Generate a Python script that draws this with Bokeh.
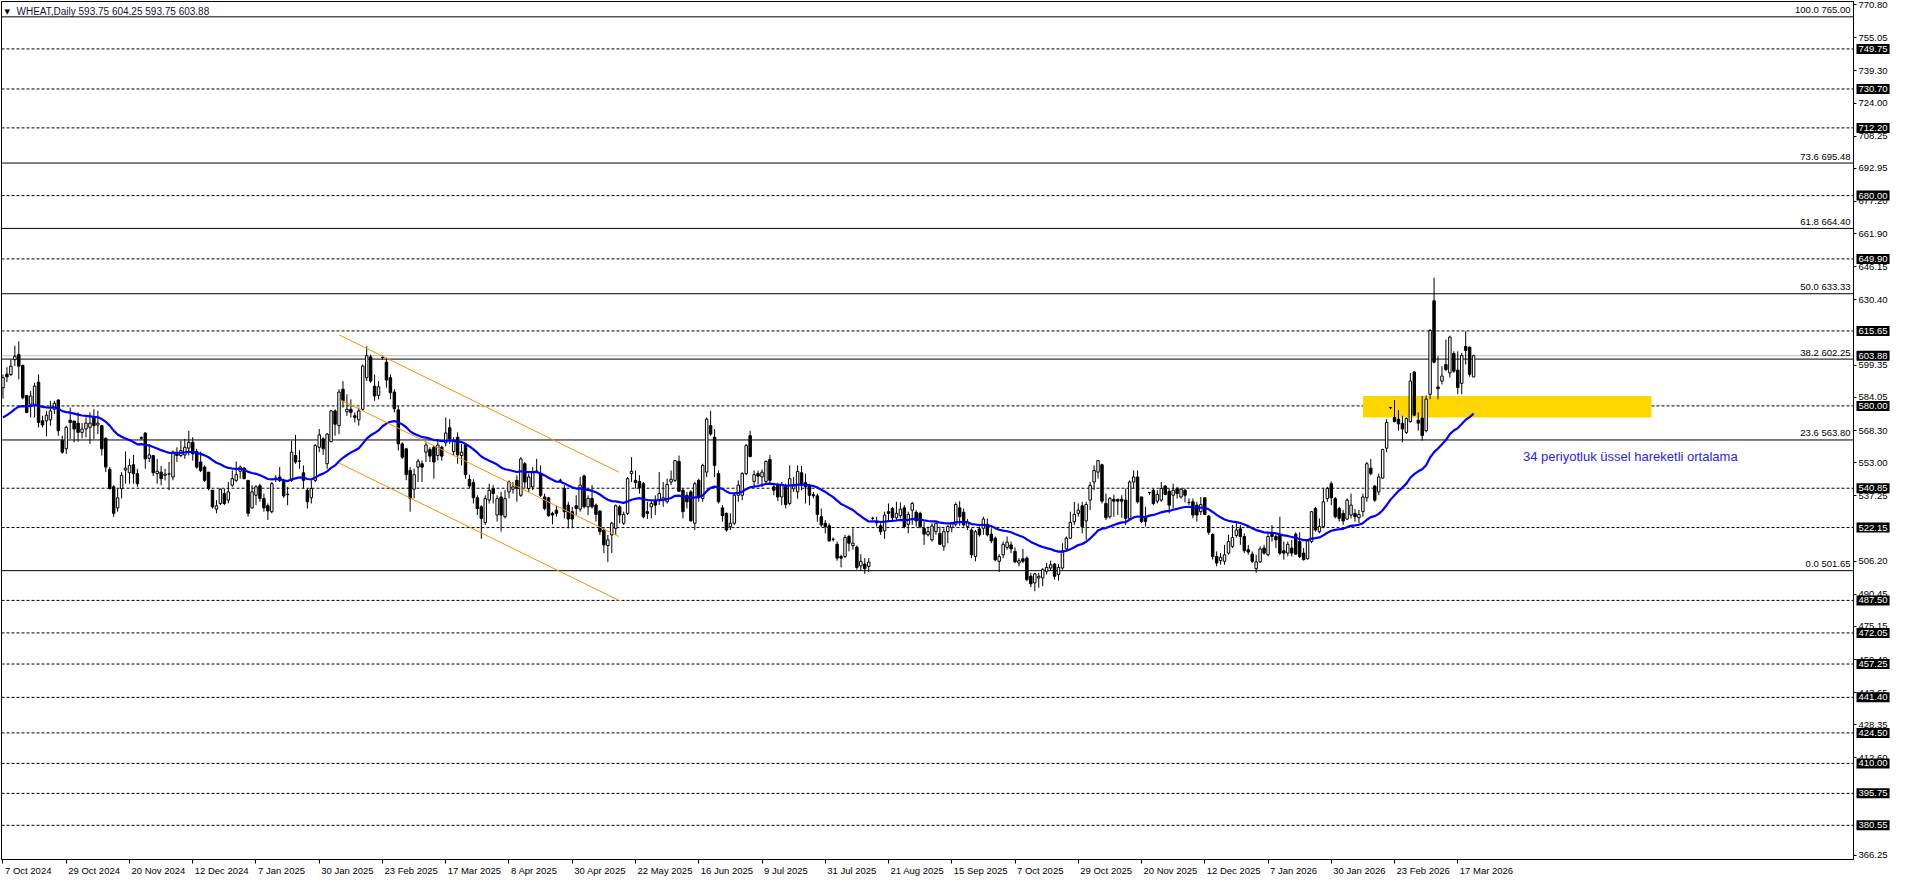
import numpy as np
from bokeh.plotting import figure
from bokeh.models import (ColumnDataSource, Range1d, FixedTicker, Label, Span,
                          CustomJSTickFormatter)
from bokeh.embed import file_html
from bokeh.resources import INLINE

# ---------------- data (WHEAT, Daily) ----------------
opens = [
588.6,595.1,594.9,602.0,604.4,599.2,585.0,580.8,580.0,591.3,572.9,572.9,573.4,578.4,582.8,563.5,559.6,573.2,572.8,571.8,
567.4,569.0,569.8,574.8,570.9,570.6,564.6,549.8,541.5,531.5,540.7,549.5,548.2,552.0,547.8,564.9,567.1,555.1,556.4,547.8,
548.5,547.0,547.6,546.2,557.2,556.4,556.7,559.9,562.7,558.3,553.3,550.9,548.5,539.9,530.9,533.6,538.3,535.2,542.3,544.6,
548.9,550.4,544.6,531.5,537.5,542.0,536.0,532.5,529.7,545.1,546.2,544.6,538.0,544.6,556.4,553.8,548.2,539.9,536.3,544.6,
560.3,564.3,552.5,563.0,577.6,570.6,587.9,577.2,578.4,575.3,573.4,578.4,593.4,603.3,589.4,585.0,603.1,600.8,593.4,586.6,
578.1,561.9,559.6,549.3,540.4,550.9,552.5,558.0,559.2,560.3,556.4,560.3,562.4,569.6,558.3,565.1,556.4,561.4,545.1,543.5,
536.3,532.0,524.6,535.2,540.7,528.1,536.7,527.3,539.1,540.4,544.6,537.5,552.5,540.7,541.5,549.0,547.8,536.7,536.3,528.9,
530.4,544.6,540.7,532.8,529.7,532.5,530.9,546.7,532.0,536.0,532.8,530.0,521.0,513.6,518.6,521.8,532.0,524.2,528.9,547.8,
544.6,544.1,543.0,529.7,532.0,535.2,535.2,535.6,534.4,543.8,544.6,553.6,539.9,537.5,539.1,524.2,544.6,536.0,548.5,570.6,
565.1,547.8,531.5,528.9,522.6,524.2,537.5,537.5,547.8,565.8,544.1,547.8,546.2,544.1,554.5,541.5,542.3,536.7,541.5,533.6,
540.6,539.1,548.2,543.5,542.2,537.8,537.2,527.3,524.2,523.0,516.6,514.2,508.4,508.4,517.9,513.6,512.8,503.9,504.8,503.7,
526.5,524.6,523.0,520.6,529.7,531.2,526.8,527.8,531.5,523.7,530.4,529.4,528.9,521.8,518.7,516.3,520.2,519.4,513.2,520.2,
522.1,523.7,531.5,529.4,522.6,521.0,508.4,521.5,521.8,523.7,519.0,517.1,506.1,509.2,512.7,513.9,510.8,505.3,507.3,507.6,
499.0,495.8,498.2,498.2,501.3,502.9,504.8,499.8,502.9,512.0,517.1,524.9,528.9,532.5,525.3,535.2,543.8,548.5,552.0,533.6,
527.3,535.6,535.6,535.6,535.2,526.5,543.8,546.2,536.7,527.3,538.8,539.9,534.7,535.2,541.9,539.4,537.5,540.7,536.7,539.9,
534.1,534.4,532.8,529.7,536.3,527.6,518.9,508.4,506.4,506.1,510.0,513.2,518.4,521.5,517.9,511.6,509.5,502.6,505.8,512.4,
509.2,519.0,517.9,518.7,511.1,510.0,512.4,519.0,515.5,510.0,507.3,515.5,531.2,520.2,522.6,535.9,543.0,535.9,531.2,528.9,
526.2,528.1,528.9,526.8,529.7,536.3,550.4,541.9,539.1,545.7,559.9,579.2,574.5,573.7,571.7,567.4,572.5,596.1,573.2,574.2,
568.2,585.5,630.0,589.0,591.8,599.7,595.7,604.9,597.0,590.7,608.3,607.9,593.75]
highs = [
594.9,598.4,602.0,608.6,610.7,599.7,585.2,587.1,591.0,594.9,575.3,577.6,582.4,582.4,583.1,565.8,570.6,579.2,572.8,576.9,
571.8,574.5,576.9,578.4,577.6,571.0,565.0,550.9,542.3,540.7,548.5,558.3,554.8,556.7,550.1,565.5,567.4,561.9,556.7,554.8,
551.4,550.1,553.3,558.8,560.3,563.5,564.3,568.2,565.1,559.6,558.3,551.7,548.5,539.9,535.2,540.7,540.7,543.8,549.3,553.6,
551.7,550.9,544.6,542.3,542.3,543.0,538.3,533.6,543.8,547.0,550.9,545.4,541.5,563.5,566.2,558.8,551.7,540.7,544.6,561.9,
569.0,565.1,567.1,578.1,578.4,587.9,591.8,585.5,583.1,576.9,579.2,599.7,608.3,604.4,594.9,591.8,603.9,602.8,594.9,587.9,
580.0,562.7,559.6,550.9,550.1,554.8,554.0,562.7,560.3,561.1,564.3,561.1,574.5,573.7,565.1,567.4,561.9,561.9,547.3,545.1,
537.5,532.8,537.5,543.0,542.3,537.5,539.1,539.9,544.6,543.8,547.0,555.6,553.3,547.8,550.9,554.8,551.7,538.3,536.7,529.7,
532.5,545.4,542.3,534.4,532.0,537.5,546.2,547.3,537.5,542.3,533.6,530.4,521.8,518.6,524.9,533.1,532.8,529.7,546.2,555.6,
549.3,547.0,543.8,534.4,535.2,537.5,548.5,543.8,545.4,549.3,554.0,556.4,540.7,539.1,539.9,543.8,545.4,552.5,574.5,577.6,
569.0,549.3,532.8,529.3,528.9,538.3,544.6,548.5,561.9,568.2,549.3,549.3,549.8,554.0,556.7,543.0,543.5,543.8,543.0,551.7,
546.2,551.7,551.4,547.8,543.0,539.1,538.3,531.2,525.7,524.2,517.4,515.5,509.2,518.7,518.7,521.8,513.6,509.5,507.6,507.6,
527.3,527.3,524.2,529.7,533.6,532.0,534.4,534.1,532.8,529.7,534.4,530.4,529.7,524.9,522.6,524.2,524.2,522.6,521.8,523.4,
524.9,534.1,534.7,531.2,526.2,521.8,521.0,522.6,527.3,526.5,521.8,517.9,509.5,515.5,517.9,515.5,512.7,507.6,512.0,508.4,
500.6,500.6,500.6,502.9,505.3,506.4,505.3,504.8,514.7,517.9,529.7,534.4,533.6,534.4,534.4,543.8,551.7,554.0,552.5,538.3,
536.7,537.8,535.6,537.5,540.7,544.6,549.3,549.3,536.7,532.0,538.8,540.7,539.9,543.8,542.3,540.7,543.0,541.5,541.0,540.7,
536.0,536.0,534.4,536.7,536.3,528.1,519.4,510.8,510.0,513.9,518.7,523.4,524.2,523.4,519.4,513.9,510.8,509.2,513.1,513.9,
520.2,523.4,519.4,527.3,515.5,515.5,516.3,519.9,519.9,512.4,516.3,530.0,532.0,526.5,540.7,541.5,544.1,536.7,532.0,530.5,
536.0,538.3,530.9,530.5,538.3,553.3,554.8,542.3,547.8,559.6,573.7,579.2,582.8,578.1,575.3,574.5,595.7,596.5,576.9,584.7,
585.0,616.5,641.0,603.6,598.9,611.5,613.4,606.0,606.0,605.2,615.4,608.3,604.25]
lows = [
583.5,591.3,594.2,598.9,592.6,583.1,576.5,574.5,574.5,569.8,569.8,565.5,570.6,576.1,565.8,557.2,557.2,564.3,562.7,563.0,
564.6,565.1,561.9,564.3,566.6,556.4,548.5,540.2,527.3,529.7,536.0,543.0,543.0,543.0,541.5,564.0,550.1,553.3,546.6,543.0,
542.3,544.6,539.9,544.6,553.3,555.6,554.8,556.4,554.0,550.1,548.5,543.8,539.9,531.2,528.9,532.8,532.8,533.6,541.5,543.8,
545.4,545.1,527.3,531.2,532.8,534.4,529.7,525.7,528.9,543.8,543.8,536.3,532.8,543.8,552.5,550.1,540.7,531.2,533.6,543.8,
558.0,556.7,550.1,562.7,565.8,566.6,579.2,575.3,574.5,572.1,570.6,577.6,591.8,591.0,582.4,583.1,602.0,588.7,583.1,576.9,
558.8,554.8,544.6,529.7,536.0,543.8,543.8,553.3,553.3,545.4,554.0,554.0,560.8,561.9,556.4,552.5,551.7,545.4,540.7,533.6,
528.1,516.8,523.4,533.6,533.6,525.0,520.2,526.5,536.0,538.3,534.4,536.7,540.7,539.1,539.9,548.5,536.7,530.4,527.3,523.7,
527.3,544.1,526.5,521.8,521.8,528.1,529.7,531.2,528.1,531.2,525.0,518.6,510.0,505.8,510.0,518.6,524.2,523.4,528.1,543.8,
540.7,538.3,526.5,526.2,526.5,528.1,532.8,532.0,533.6,542.3,543.8,539.1,526.5,531.2,525.0,521.0,534.4,534.4,546.2,565.8,
546.2,533.6,525.0,520.2,521.0,523.4,534.4,535.2,547.0,555.6,541.5,542.6,541.5,543.0,543.0,537.5,534.7,532.8,531.2,532.8,
539.1,535.9,539.9,533.6,532.8,536.0,524.9,522.6,519.4,515.5,515.5,506.4,503.2,507.6,510.8,511.6,502.1,501.7,500.1,501.0,
525.7,522.6,518.7,516.8,524.9,524.9,525.7,526.5,521.8,519.4,523.4,522.6,521.8,513.9,517.9,515.5,518.7,513.9,511.1,514.7,
519.9,522.6,523.0,522.6,521.0,507.6,506.1,517.9,518.7,517.9,514.7,506.1,501.0,507.6,511.6,510.0,505.3,503.7,505.3,496.6,
493.8,491.9,493.5,494.3,499.8,501.7,497.4,496.9,502.1,510.8,516.8,523.4,527.3,519.4,516.3,530.5,539.9,545.4,533.6,525.7,
526.5,527.3,528.1,526.8,523.4,525.7,540.7,533.6,524.2,522.6,537.6,532.8,533.6,534.4,537.5,528.9,531.2,535.9,535.9,534.1,
532.8,526.5,525.0,528.1,528.1,518.7,506.9,503.7,504.5,504.5,509.2,512.4,517.4,513.9,510.0,509.2,505.3,500.6,505.3,509.2,
508.4,515.5,512.4,509.2,506.9,508.4,508.4,509.2,507.6,506.4,506.9,514.7,520.2,519.4,521.8,534.4,532.8,526.5,525.0,523.4,
525.7,526.5,525.0,524.2,527.3,534.4,547.0,534.4,537.5,545.4,558.0,578.4,572.1,568.2,562.7,566.6,572.1,575.3,568.2,563.5,
567.4,583.2,600.2,583.2,590.2,596.5,593.4,595.7,585.5,585.5,599.7,593.9,593.75]
closes = [
593.4,593.8,598.9,603.6,598.9,583.9,576.9,584.7,589.4,572.1,570.9,575.6,577.6,581.3,568.2,558.0,569.8,572.1,569.0,567.4,
569.0,571.8,571.8,570.6,571.8,559.6,550.9,540.7,528.9,536.3,547.0,550.4,551.7,547.8,543.0,564.6,554.8,556.7,548.2,548.9,
545.4,547.6,547.7,558.0,556.4,558.8,560.3,562.7,557.2,550.9,549.3,544.6,540.7,532.0,532.5,540.4,533.6,539.1,545.4,547.3,
550.9,545.4,528.9,539.1,541.5,536.0,531.5,530.0,543.0,545.7,544.6,537.2,537.8,558.0,553.3,553.7,544.6,534.4,540.7,561.1,
566.2,559.6,566.6,577.6,571.3,586.6,582.4,578.4,576.9,574.5,577.6,598.9,603.9,591.8,584.7,589.1,603.0,592.3,586.3,578.7,
561.9,555.6,547.3,536.0,547.3,553.7,550.9,561.4,556.1,553.3,561.4,556.1,567.1,564.3,563.0,556.7,558.0,547.3,541.9,536.3,
531.2,526.5,535.9,539.9,538.3,535.9,528.1,535.9,543.8,541.5,540.7,554.8,543.8,546.2,548.5,548.9,537.5,531.2,527.8,528.1,
528.9,544.6,529.7,526.2,526.2,531.2,542.3,532.0,536.0,532.0,528.4,520.2,513.9,516.3,524.2,532.5,528.1,528.4,545.4,548.9,
543.5,541.0,527.3,528.9,533.6,532.8,538.3,536.3,542.6,545.1,554.0,539.4,529.7,534.4,525.3,543.0,536.7,551.7,573.7,566.6,
551.7,534.4,527.8,521.0,524.2,537.5,542.3,547.8,561.1,555.9,547.3,546.6,548.5,553.6,544.6,539.9,536.7,542.6,533.1,545.4,
542.6,548.8,542.3,541.5,537.5,537.2,528.4,523.4,522.6,515.8,516.6,507.6,507.6,517.4,514.7,514.7,503.2,506.1,502.6,505.7,
526.5,524.4,520.2,528.1,528.9,526.8,528.9,530.9,522.6,528.4,533.6,525.3,522.6,519.0,520.2,522.9,524.2,514.2,520.2,522.6,
524.2,533.1,527.3,523.4,524.6,509.2,520.2,518.7,526.2,518.7,515.8,506.8,508.4,514.2,515.2,512.0,505.8,506.4,506.1,497.4,
495.4,500.1,499.0,502.1,503.2,504.5,499.0,503.2,511.1,517.1,524.6,528.4,530.4,522.6,533.1,542.2,549.3,554.0,534.7,526.8,
535.9,534.7,534.7,534.7,526.5,543.8,546.2,534.4,525.0,525.0,538.8,533.6,537.9,540.7,537.9,532.8,539.9,538.3,540.4,537.5,
534.0,528.1,528.1,533.1,528.4,519.9,508.4,505.3,508.0,509.2,515.5,517.4,521.0,517.9,511.1,510.5,506.1,505.8,512.0,510.0,
517.9,517.9,516.3,510.0,510.0,514.2,510.0,509.5,508.4,506.9,515.8,529.7,521.0,522.6,534.4,540.7,536.3,527.3,526.5,525.3,
535.2,532.8,527.3,528.4,536.7,552.5,547.8,535.2,546.2,559.2,572.1,579.2,572.6,571.4,569.0,574.0,591.8,575.6,571.8,565.9,
583.2,615.9,600.8,588.2,594.2,597.3,612.7,596.5,588.7,603.9,606.4,595.0,603.88]

date_labels = ["7 Oct 2024", "29 Oct 2024", "20 Nov 2024", "12 Dec 2024", "7 Jan 2025", "30 Jan 2025",
               "23 Feb 2025", "17 Mar 2025", "8 Apr 2025", "30 Apr 2025", "22 May 2025", "16 Jun 2025",
               "9 Jul 2025", "31 Jul 2025", "21 Aug 2025", "15 Sep 2025", "7 Oct 2025", "29 Oct 2025",
               "20 Nov 2025", "12 Dec 2025", "7 Jan 2026", "30 Jan 2026", "23 Feb 2026", "17 Mar 2026"]
date_label_bars = list(range(0, 16 * len(date_labels), 16))

dashed_levels = [749.75, 730.70, 712.20, 680.00, 649.90, 615.65, 580.00, 540.85, 522.15,
                 487.50, 472.05, 457.25, 441.40, 424.50, 410.00, 395.75, 380.55]
fib_pcts = ["100.0", "73.6", "61.8", "50.0", "38.2", "23.6", "0.0"]
fib_levels = [765.00, 695.48, 664.40, 633.33, 602.25, 563.80, 501.65]
last_price = 603.88
price_boxes = [749.75, 730.70, 712.20, 680.00, 649.90, 615.65, 603.88, 580.00, 540.85, 522.15,
               487.50, 472.05, 457.25, 441.40, 424.50, 410.00, 395.75, 380.55]
axis_ticks = [770.80, 755.05, 739.30, 724.00, 708.25, 692.95, 677.20, 661.90, 646.15, 630.40,
              599.35, 584.05, 568.30, 553.00, 537.25, 506.20, 490.45, 475.15, 459.40, 443.65,
              428.35, 412.60, 366.25]

channel_bars = [85.0, 155.8]
channel_upper = [613.8, 548.5]
channel_mid = [583.2, 517.9]
channel_lower = [552.8, 487.5]

zone_bars = [344.0, 417.0]
zone_prices = [574.5, 584.7]

ema_period = 34
ema_seed = 574.5
ema_text = "34 periyotluk üssel hareketli ortalama"
ema_text_pos = (384.5, 556.1)
title_text = "WHEAT,Daily  593.75 604.25 593.75 603.88"

# ---------------- layout ----------------
X0, X1 = -0.375, 468.1
Y0, Y1 = 364.3, 772.3
FW, FH = 1852, 858
pxx = FW / (X1 - X0)
pxy = FH / (Y1 - Y0)
FONT = "Liberation Sans"
FS = "9.5px"

p = figure(frame_width=FW, frame_height=FH, x_range=Range1d(X0, X1), y_range=Range1d(Y0, Y1),
           y_axis_location="right", output_backend="svg", toolbar_location=None,
           min_border_left=1, min_border_top=1, min_border_right=46, min_border_bottom=0,
           background_fill_color="white", border_fill_color="white",
           outline_line_color="black", outline_line_width=1)
p.xgrid.visible = False
p.ygrid.visible = False

n = len(closes)
xs = np.arange(n)
o = np.array(opens); h = np.array(highs); l = np.array(lows); c = np.array(closes)
up = c >= o
src = ColumnDataSource(dict(x=xs, o=o, h=h, l=l, c=c,
                            top=np.maximum(o, c), bottom=np.minimum(o, c),
                            fill=np.where(up, "white", "black")))

# support zone
p.quad(left=[zone_bars[0]], right=[zone_bars[1]], bottom=[zone_prices[0]], top=[zone_prices[1]],
       fill_color="#FFD700", line_color=None)

# horizontal lines
for lv in dashed_levels:
    p.add_layout(Span(location=lv, dimension="width", line_color="black", line_width=1,
                      line_dash="3 2", level="underlay"))
p.add_layout(Span(location=last_price, dimension="width", line_color="#C0C0C0", line_width=1,
                  level="underlay"))
for lv in fib_levels:
    p.add_layout(Span(location=lv, dimension="width", line_color="black", line_width=1,
                      level="underlay"))

# candles
p.segment(x0="x", y0="l", x1="x", y1="h", source=src, line_color="black", line_width=1)
p.vbar(x="x", width=0.62, top="top", bottom="bottom", source=src, fill_color="fill",
       line_color="black", line_width=1)

# EMA 34
alpha = 2.0 / (ema_period + 1)
ema = np.empty(n)
ema[0] = ema_seed
for i in range(1, n):
    ema[i] = ema[i - 1] + alpha * (c[i] - ema[i - 1])
p.line(xs, ema, line_color="#0000FF", line_width=2.2)

# channel
for arr in (channel_upper, channel_mid, channel_lower):
    p.line(channel_bars, arr, line_color="#FF8C00", line_width=1)

# fib texts
for pct, lv in zip(fib_pcts, fib_levels):
    p.add_layout(Label(x=X1 - 3 / pxx, y=lv + 1.5 / pxy, text=f"{pct} {lv:.2f}",
                       text_align="right", text_baseline="bottom", text_font=FONT,
                       text_font_size=FS, text_color="black"))

# EMA caption
p.add_layout(Label(x=ema_text_pos[0], y=ema_text_pos[1], text=ema_text, text_font=FONT,
                   text_font_size="13px", text_color="#2323FF", text_baseline="middle"))

# title
p.add_layout(Label(x=X0 + 3 / pxx, y=Y1 - 10 / pxy, text="▼", text_font="DejaVu Sans",
                   text_font_size="7px", text_color="black", text_baseline="middle"))
p.add_layout(Label(x=X0 + 15 / pxx, y=Y1 - 10 / pxy, text=title_text, text_font=FONT,
                   text_font_size="10px", text_color="#10103a", text_baseline="middle"))

# right price axis
ya = p.yaxis[0]
ya.ticker = FixedTicker(ticks=axis_ticks)
ya.formatter = CustomJSTickFormatter(code="return tick.toFixed(2);")
ya.major_tick_out = 3
ya.major_tick_in = 0
ya.minor_tick_line_color = None
ya.major_label_standoff = 2
ya.axis_line_color = "black"
ya.major_label_text_font = FONT
ya.major_label_text_font_size = FS
ya.major_label_text_color = "black"

# price boxes on the axis: placed in the right side panel so they are not clipped to the frame
for lv in price_boxes:
    kw = dict(x=X1 + 3 / pxx, y=lv, text=f"{lv:.2f}", text_align="left", text_baseline="middle",
              text_color="white", text_font=FONT, text_font_size=FS,
              background_fill_color="black")
    try:
        lab = Label(padding=2, **kw)
    except Exception:
        lab = Label(**kw)
    p.add_layout(lab, "right")

# bottom axis: minor ticks mark the bars, labels start just right of each mark
CW = {" ": 2.78, "0": 5.56, "1": 5.56, "2": 5.56, "3": 5.56, "4": 5.56, "5": 5.56, "6": 5.56,
      "7": 5.56, "8": 5.56, "9": 5.56, "O": 7.78, "N": 7.22, "D": 7.22, "J": 5.0, "F": 6.11,
      "M": 8.33, "A": 6.67, "S": 6.67, "c": 5.0, "t": 2.78, "o": 5.56, "v": 5.0, "e": 5.56,
      "a": 5.56, "n": 5.56, "r": 3.33, "p": 5.56, "y": 5.0, "u": 5.56, "l": 2.22, "g": 5.56,
      "b": 5.56}
def text_w(s, size=9.5):
    return sum(CW.get(ch, 5.56) for ch in s) * size / 10.0

shifted = [b + (text_w(t) / 2 + 2) / pxx for b, t in zip(date_label_bars, date_labels)]
xa = p.xaxis[0]
xa.ticker = FixedTicker(ticks=shifted, minor_ticks=date_label_bars)
xa.formatter = CustomJSTickFormatter(args=dict(tk=shifted, labels=date_labels), code="""
let best = 0;
for (let i = 0; i < tk.length; i++) { if (Math.abs(tk[i] - tick) < Math.abs(tk[best] - tick)) best = i; }
return labels[best];
""")
xa.major_tick_line_color = None
xa.major_tick_out = 3
xa.major_tick_in = 0
xa.minor_tick_line_color = "black"
xa.minor_tick_out = 4
xa.minor_tick_in = 0
xa.major_label_standoff = 1
xa.axis_line_color = "black"
xa.major_label_text_font = FONT
xa.major_label_text_font_size = FS
xa.major_label_text_color = "black"

open("out.html", "w").write(file_html(p, INLINE))
